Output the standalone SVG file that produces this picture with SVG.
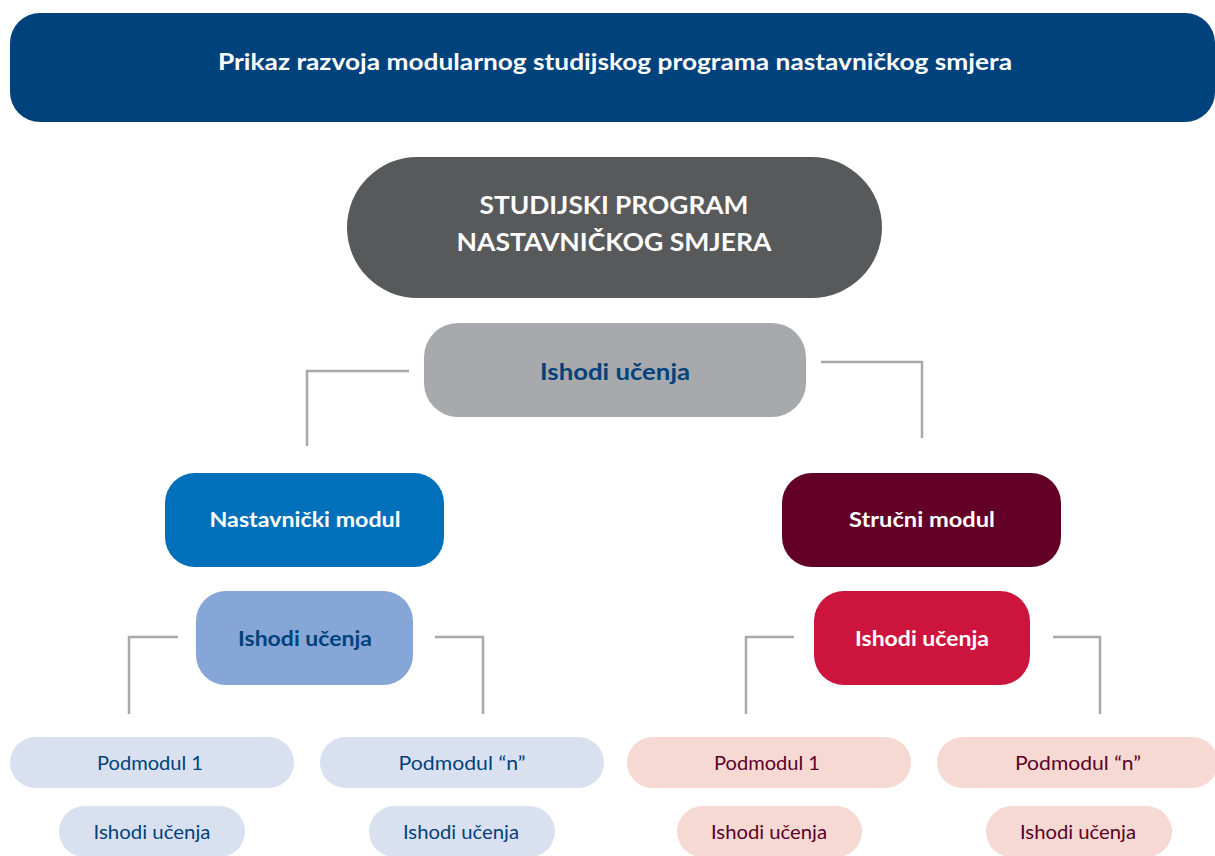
<svg xmlns="http://www.w3.org/2000/svg" width="1215" height="856" viewBox="0 0 1215 856">
<style>
  text { font-family: Lato, "Open Sans", "Liberation Sans", sans-serif; text-anchor: middle; }
  .b { font-weight: bold; }
  .w { fill: #ffffff; }
  .db { fill: #00427b; }
  .dm { fill: #5b0026; }
  .conn { fill: none; stroke: #a7a9ac; stroke-width: 2.5; }
</style>
<rect width="1215" height="856" fill="#ffffff"/>
<g id="banner">
  <rect x="10" y="13" width="1205" height="109" rx="30" fill="#00427b"/>
  <text x="615" y="70" class="b w" font-size="22" textLength="794" lengthAdjust="spacingAndGlyphs">Prikaz razvoja modularnog studijskog programa nastavničkog smjera</text>
</g>
<g id="connectors">
  <path class="conn" d="M409 371 H307 V446"/>
  <path class="conn" d="M821 362 H922 V438"/>
  <path class="conn" d="M178 637 H129 V714"/>
  <path class="conn" d="M435 637 H483 V714"/>
  <path class="conn" d="M794 637 H746 V714"/>
  <path class="conn" d="M1053 637 H1100 V714"/>
</g>
<g id="program">
  <rect x="347" y="157" width="535" height="141" rx="70.5" fill="#58595b"/>
  <text x="614" y="214" class="b w" font-size="24" textLength="269" lengthAdjust="spacingAndGlyphs">STUDIJSKI PROGRAM</text>
  <text x="614" y="251" class="b w" font-size="24" textLength="315" lengthAdjust="spacingAndGlyphs">NASTAVNIČKOG SMJERA</text>
</g>
<g id="ishodi-main">
  <rect x="424" y="323" width="382" height="94" rx="34" fill="#a7a9ac"/>
  <text x="615" y="380" class="b db" font-size="23" textLength="150" lengthAdjust="spacingAndGlyphs">Ishodi učenja</text>
</g>
<g id="nastavnicki-modul">
  <rect x="165" y="473" width="279" height="94" rx="30" fill="#0070ba"/>
  <text x="305" y="527" class="b w" font-size="20" textLength="191" lengthAdjust="spacingAndGlyphs">Nastavnički modul</text>
</g>
<g id="strucni-modul">
  <rect x="782" y="473" width="279" height="94" rx="30" fill="#630025"/>
  <text x="922" y="527" class="b w" font-size="20" textLength="146" lengthAdjust="spacingAndGlyphs">Stručni modul</text>
</g>
<g id="ishodi-nastavnicki">
  <rect x="196" y="591" width="217" height="94" rx="30" fill="#85a6d6"/>
  <text x="305" y="646" class="b db" font-size="21" textLength="134" lengthAdjust="spacingAndGlyphs">Ishodi učenja</text>
</g>
<g id="ishodi-strucni">
  <rect x="814" y="591" width="216" height="94" rx="30" fill="#cc143c"/>
  <text x="922" y="646" class="b w" font-size="21" textLength="134" lengthAdjust="spacingAndGlyphs">Ishodi učenja</text>
</g>
<g id="n-podmodul-1">
  <rect x="10" y="737" width="284" height="51" rx="25.5" fill="#d9e1f1"/>
  <text x="150" y="770" class="db" font-size="20" textLength="106" lengthAdjust="spacingAndGlyphs">Podmodul 1</text>
</g>
<g id="n-podmodul-n">
  <rect x="320" y="737" width="284" height="51" rx="25.5" fill="#d9e1f1"/>
  <text x="462" y="770" class="db" font-size="20" textLength="127" lengthAdjust="spacingAndGlyphs">Podmodul “n”</text>
</g>
<g id="n-ishodi-1">
  <rect x="59" y="806" width="186" height="51" rx="25.5" fill="#d9e1f1"/>
  <text x="152" y="839" class="db" font-size="20" textLength="117" lengthAdjust="spacingAndGlyphs">Ishodi učenja</text>
</g>
<g id="n-ishodi-n">
  <rect x="369" y="806" width="186" height="51" rx="25.5" fill="#d9e1f1"/>
  <text x="461" y="839" class="db" font-size="20" textLength="116" lengthAdjust="spacingAndGlyphs">Ishodi učenja</text>
</g>
<g id="s-podmodul-1">
  <rect x="627" y="737" width="284" height="51" rx="25.5" fill="#f6d9d3"/>
  <text x="767" y="770" class="dm" font-size="20" textLength="106" lengthAdjust="spacingAndGlyphs">Podmodul 1</text>
</g>
<g id="s-podmodul-n">
  <rect x="937" y="737" width="281" height="51" rx="25.5" fill="#f6d9d3"/>
  <text x="1078" y="770" class="dm" font-size="20" textLength="126" lengthAdjust="spacingAndGlyphs">Podmodul “n”</text>
</g>
<g id="s-ishodi-1">
  <rect x="677" y="806" width="185" height="51" rx="25.5" fill="#f6d9d3"/>
  <text x="769" y="839" class="dm" font-size="20" textLength="116" lengthAdjust="spacingAndGlyphs">Ishodi učenja</text>
</g>
<g id="s-ishodi-n">
  <rect x="986" y="806" width="186" height="51" rx="25.5" fill="#f6d9d3"/>
  <text x="1078" y="839" class="dm" font-size="20" textLength="116" lengthAdjust="spacingAndGlyphs">Ishodi učenja</text>
</g>
</svg>
